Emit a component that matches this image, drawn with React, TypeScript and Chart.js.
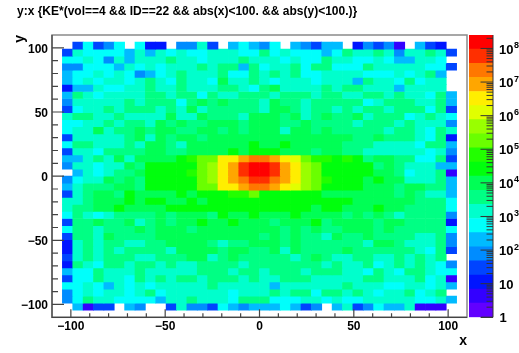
import React, { useEffect, useRef } from "react";
import { Chart, registerables } from "chart.js";

Chart.register(...registerables);

const titleText = "y:x {KE*(vol==4 && ID==22 && abs(x)<100. && abs(y)<100.)}";
const FONT = "'Liberation Sans', Arial, sans-serif";

// Contour level (0..19) of every bin. -1 is an empty bin.
const row00 = [-1,3,6,3,4,6,-1,6,2,2,-1,4,4,7,3,-1,5,6,5,4,6,-1,5,4,3,5,5,-1,2,4,3,4,1,-1,5,3,2,-1];
const row01 = [3,7,6,6,6,6,5,7,5,7,6,7,6,6,7,7,7,6,6,8,6,7,6,6,6,5,6,8,7,7,8,7,4,7,7,8,7,3];
const row02 = [6,6,7,6,4,7,5,7,7,7,8,7,7,6,7,7,7,8,7,7,7,6,7,6,6,8,7,7,6,6,7,6,5,5,7,7,6,-1];
const row03 = [4,4,6,6,6,5,7,6,7,6,7,7,7,8,7,8,8,5,8,6,7,7,8,6,8,8,6,6,6,8,7,7,7,7,7,6,6,3];
const row04 = [5,6,6,7,6,7,6,4,5,6,7,8,7,7,7,8,6,6,8,7,8,7,8,6,6,7,7,7,7,6,6,6,7,6,7,8,5,-1];
const row05 = [5,6,7,6,7,7,6,7,8,7,6,8,7,7,6,9,7,7,8,7,6,7,7,7,6,7,7,7,5,8,7,7,6,8,6,7,7,-1];
const row06 = [2,5,5,7,6,6,7,7,8,7,7,8,7,7,7,8,8,7,6,8,9,7,7,7,7,8,7,8,8,7,7,7,5,7,7,7,7,-1];
const row07 = [5,8,7,6,7,7,7,7,8,8,7,8,8,6,8,7,7,8,8,8,7,8,8,8,7,8,8,7,7,8,8,7,8,7,7,6,8,5];
const row08 = [4,7,7,7,7,7,8,7,8,8,8,6,8,9,8,9,8,8,8,7,9,8,8,7,8,8,8,8,8,6,7,8,8,8,7,7,8,5];
const row09 = [3,6,7,7,8,7,8,8,8,7,8,7,9,7,8,8,8,8,8,7,9,9,8,7,8,8,7,8,7,8,8,7,8,8,8,6,8,3];
const row10 = [7,8,8,7,7,8,7,7,7,7,9,7,7,9,8,8,8,7,9,9,9,8,9,7,8,9,8,8,9,7,8,8,8,6,7,8,7,6];
const row11 = [6,6,7,7,8,7,8,8,7,9,8,9,8,8,9,9,9,8,9,9,9,8,8,9,8,8,8,8,7,8,8,8,7,8,7,7,7,4];
const row12 = [6,7,7,9,7,8,8,9,8,9,9,8,8,9,9,8,9,8,9,9,9,7,9,9,8,9,8,8,8,8,8,7,8,8,7,6,8,7];
const row13 = [3,7,7,7,7,7,8,9,7,9,8,9,9,8,9,9,9,9,9,9,9,9,9,9,9,9,9,9,8,8,9,8,8,8,7,6,8,2];
const row14 = [6,8,8,7,7,7,8,7,9,9,8,7,9,9,9,9,9,9,10,9,9,10,9,9,9,9,9,8,8,8,7,7,7,7,6,8,8,5];
const row15 = [3,7,7,6,8,8,8,8,9,9,8,8,9,9,9,9,10,9,10,10,10,9,9,9,8,9,9,8,8,7,7,7,7,7,7,6,7,4];
const row16 = [5,5,7,8,7,9,7,9,9,9,9,10,11,12,12,15,15,16,17,17,16,15,14,12,11,11,10,11,10,8,9,9,8,8,6,6,8,3];
const row17 = [4,7,7,6,7,7,9,8,10,10,10,10,10,12,13,15,16,18,19,19,18,16,15,13,12,10,10,10,10,10,8,9,8,7,7,7,5,5];
const row18 = [-1,5,7,6,7,8,8,9,10,10,10,10,11,12,13,15,16,18,19,19,18,16,15,13,12,10,10,10,10,10,9,9,8,6,7,7,8,1];
const row19 = [4,6,7,7,9,8,9,8,10,10,10,10,10,12,13,15,16,17,18,18,17,16,15,13,12,11,10,10,10,9,10,9,9,7,7,7,8,5];
const row20 = [5,7,8,8,8,9,9,8,10,10,10,10,10,12,12,15,15,16,17,17,16,15,14,13,12,10,10,10,10,9,9,9,8,9,9,8,8,5];
const row21 = [3,7,8,9,9,8,10,9,9,9,9,10,9,10,10,10,11,11,12,10,10,10,10,10,10,9,9,9,9,9,9,9,8,9,8,7,7,5];
const row22 = [7,7,8,9,9,9,10,9,10,10,9,9,10,9,10,10,10,10,10,10,10,10,10,10,10,10,10,10,9,9,9,9,9,9,8,8,8,6];
const row23 = [7,8,8,9,9,10,9,9,9,9,10,10,10,10,10,10,10,10,10,10,10,10,10,10,9,10,10,9,9,9,10,9,9,8,8,8,8,6];
const row24 = [6,8,7,6,7,8,8,8,8,9,8,9,9,9,8,10,9,9,10,9,9,9,10,9,9,9,9,8,9,8,9,8,7,8,8,8,8,4];
const row25 = [3,8,8,9,8,8,9,7,8,9,8,9,9,10,9,9,10,9,9,9,8,9,9,9,10,8,9,9,9,9,8,9,9,8,8,8,8,2];
const row26 = [6,8,8,7,8,8,8,9,8,9,9,9,8,9,9,9,9,9,9,9,9,8,9,8,9,8,8,9,9,9,8,9,8,8,8,8,8,6];
const row27 = [3,8,8,7,9,8,8,8,8,9,9,9,9,9,9,9,9,9,9,8,9,8,9,8,8,7,9,8,8,9,8,8,8,8,7,7,8,4];
const row28 = [2,7,8,7,8,8,7,7,8,8,9,9,9,9,8,7,8,8,9,9,9,8,9,8,8,8,8,8,8,7,9,9,8,7,7,7,8,4];
const row29 = [2,7,8,7,8,7,8,8,8,8,7,9,9,9,9,8,9,9,8,8,9,7,9,8,8,8,8,9,8,8,8,8,8,8,7,6,8,3];
const row30 = [3,7,8,7,8,8,8,7,7,8,8,8,9,9,7,8,9,8,8,8,8,8,7,8,9,8,7,7,8,8,7,7,8,7,8,7,8,-1];
const row31 = [2,8,7,6,8,8,7,8,8,7,8,7,7,8,8,8,8,7,8,8,8,8,8,8,8,7,8,7,7,8,6,7,8,7,8,7,6,4];
const row32 = [5,6,6,8,7,7,7,8,7,7,7,7,7,8,8,8,7,8,8,7,8,8,8,7,8,8,8,7,7,6,8,7,6,8,8,7,6,6];
const row33 = [3,6,6,8,7,7,6,8,7,8,7,8,8,7,8,8,8,7,8,7,7,8,8,8,7,7,7,7,7,8,8,7,7,7,8,6,7,1];
const row34 = [6,6,7,6,5,7,6,7,6,7,7,7,7,7,8,7,7,7,7,7,5,7,7,7,7,7,7,8,7,7,7,6,6,7,7,6,7,5];
const row35 = [4,6,7,6,7,7,6,7,8,6,7,7,7,7,7,7,6,7,7,7,8,7,8,8,6,8,8,7,8,7,6,7,7,8,6,7,8,-1];
const row36 = [4,6,8,7,7,6,6,6,6,5,7,7,8,7,7,7,6,8,8,8,6,6,6,7,7,6,7,6,6,7,7,7,7,7,6,6,7,5];
const row37 = [-1,5,1,3,3,-1,5,4,-1,-1,3,7,4,4,3,6,5,4,5,5,5,6,5,3,4,-1,5,7,3,4,6,5,5,7,1,1,1,-1];
const rows = [row00,row01,row02,row03,row04,row05,row06,row07,row08,row09,row10,row11,row12,row13,row14,row15,row16,row17,row18,row19,row20,row21,row22,row23,row24,row25,row26,row27,row28,row29,row30,row31,row32,row33,row34,row35,row36,row37];

// ROOT rainbow palette, sampled at the 20 contour levels (hues in degrees)
const levelHues = [263,252,235,224,207,196,179,168,151,140,123,112,95,84,67,56,39,28,11,0];
const levelColor = (k: number) => `hsl(${levelHues[k]},100%,50%)`;

const axisMin = -110;
const axisMax = 110;
const binWidth = 5.5;
const zTopExponent = 8.4;
const zExponents = [0,1,2,3,4,5,6,7,8];

const DARK = "#444444";
const FRAME = "#8a8a8a";

const framePlugin = {
  id: "rootFrame",
  afterDatasetsDraw(chart: any) {
    const { ctx, chartArea: a, scales } = chart;
    ctx.save();
    ctx.lineWidth = 1.5;
    ctx.strokeStyle = FRAME;
    ctx.strokeRect(a.left, a.top, a.right - a.left, a.bottom - a.top);
    ctx.lineWidth = 1.2;
    ctx.strokeStyle = DARK;
    ctx.beginPath();
    ctx.moveTo(a.left, a.top);
    ctx.lineTo(a.left, a.bottom);
    ctx.lineTo(a.right, a.bottom);
    for (const t of scales.x.ticks) {
      if (t.value < -100 || t.value > 100) continue;
      const px = scales.x.getPixelForValue(t.value);
      const len = t.value % 50 === 0 ? 8 : 4;
      ctx.moveTo(px, a.bottom);
      ctx.lineTo(px, a.bottom - len);
    }
    for (const t of scales.y.ticks) {
      if (t.value < -100 || t.value > 100) continue;
      const py = scales.y.getPixelForValue(t.value);
      const len = t.value % 50 === 0 ? 12 : 6;
      ctx.moveTo(a.left, py);
      ctx.lineTo(a.left + len, py);
    }
    ctx.stroke();
    ctx.restore();
  },
};

const paletteAxisPlugin = {
  id: "paletteAxis",
  afterDatasetsDraw(chart: any) {
    const { ctx, chartArea: a, scales } = chart;
    const y = scales.y;
    ctx.save();
    ctx.lineWidth = 1;
    ctx.strokeStyle = "#333333";
    ctx.beginPath();
    ctx.moveTo(a.left + 12, a.bottom);
    ctx.lineTo(a.right, a.bottom);
    ctx.lineTo(a.right, a.top);
    for (const e of zExponents) {
      const py = y.getPixelForValue(Math.pow(10, e));
      ctx.moveTo(a.right, py);
      ctx.lineTo(a.right - 12.5, py);
      for (let m = 2; m <= 9; m++) {
        const v = m * Math.pow(10, e);
        if (v > y.max) continue;
        const pm = y.getPixelForValue(v);
        ctx.moveTo(a.right, pm);
        ctx.lineTo(a.right - 6.5, pm);
      }
    }
    ctx.stroke();
    ctx.fillStyle = "#000";
    ctx.textBaseline = "middle";
    ctx.textAlign = "left";
    for (const e of zExponents) {
      const py = y.getPixelForValue(Math.pow(10, e));
      ctx.font = `bold 13px ${FONT}`;
      const base = e === 0 ? "1" : "10";
      const lx = e === 0 ? a.right + 6.5 : a.right + 6;
      ctx.fillText(base, lx, py + 1.5);
      if (e > 1) {
        const w = ctx.measureText(base).width;
        ctx.font = `bold 9px ${FONT}`;
        ctx.fillText(String(e), lx + w + 0.5, py - 3);
      }
    }
    ctx.restore();
  },
};

const tickLabel = (v: any) => {
  if (v % 50 !== 0) return "";
  return v < 0 ? "\u2212" + Math.abs(v) : String(v);
};

export default function App() {
  const mainRef = useRef<HTMLCanvasElement>(null);
  const barRef = useRef<HTMLCanvasElement>(null);

  useEffect(() => {
    const cellDatasets = rows.map((levels, r) => {
      const top = axisMax - binWidth * (r + 1);
      const data: any[] = [];
      const colors: string[] = [];
      levels.forEach((k, c) => {
        if (k < 0) return;
        data.push({ x: axisMin + binWidth * (c + 1.5), y: [top - binWidth, top] });
        colors.push(levelColor(k));
      });
      return {
        label: `row ${r}`,
        data,
        backgroundColor: colors,
        borderWidth: 0,
        grouped: false,
        barPercentage: 1,
        categoryPercentage: 1,
      };
    });

    const main = new Chart(mainRef.current!, {
      type: "bar",
      data: { datasets: cellDatasets as any },
      plugins: [framePlugin],
      options: {
        animation: false,
        responsive: false,
        maintainAspectRatio: false,
        layout: { padding: { left: 17, right: 52, top: 0, bottom: 0 } },
        plugins: {
          legend: { display: false },
          tooltip: { enabled: false },
          title: {
            display: true,
            text: titleText,
            align: "start",
            color: "#000",
            font: { family: FONT, size: 12, weight: "bold" },
            padding: { top: 4.5, bottom: 16.1 },
          },
        },
        scales: {
          x: {
            type: "linear",
            min: axisMin,
            max: axisMax,
            offset: false,
            afterFit: (s: any) => { s.height = 35.7; },
            grid: { display: false, drawTicks: false },
            border: { display: false },
            ticks: {
              stepSize: 10,
              autoSkip: false,
              maxRotation: 0,
              padding: 2,
              color: "#000",
              font: { family: FONT, size: 12, weight: "bold" },
              callback: tickLabel,
            },
            title: {
              display: true,
              text: "x",
              align: "end",
              color: "#000",
              font: { family: FONT, size: 14, weight: "bold" },
              padding: { top: 0, bottom: 3 },
            },
          },
          y: {
            type: "linear",
            min: axisMin,
            max: axisMax,
            afterFit: (s: any) => { s.width = 35; },
            grid: { display: false, drawTicks: false },
            border: { display: false },
            ticks: {
              stepSize: 10,
              autoSkip: false,
              padding: 4,
              labelOffset: 1.5,
              color: "#000",
              font: { family: FONT, size: 12, weight: "bold" },
              callback: tickLabel,
            },
            title: {
              display: true,
              text: "y",
              align: "end",
              color: "#000",
              font: { family: FONT, size: 14, weight: "bold" },
              padding: { top: -5, bottom: 0 },
            },
          },
        },
      },
    });

    const step = zTopExponent / levelHues.length;
    const barDatasets = levelHues.map((_, k) => ({
      label: `level ${k}`,
      data: [[Math.pow(10, k * step), Math.pow(10, (k + 1) * step)]],
      backgroundColor: levelColor(k),
      borderWidth: 0,
      grouped: false,
      barPercentage: 1,
      categoryPercentage: 1,
    }));

    const bar = new Chart(barRef.current!, {
      type: "bar",
      data: { labels: ["z"], datasets: barDatasets as any },
      plugins: [paletteAxisPlugin],
      options: {
        animation: false,
        responsive: false,
        maintainAspectRatio: false,
        layout: { padding: { left: 4, right: 0, top: 35, bottom: 35.7 } },
        plugins: { legend: { display: false }, tooltip: { enabled: false } },
        scales: {
          x: { display: false },
          y: {
            type: "logarithmic",
            position: "right",
            min: 1,
            max: Math.pow(10, zTopExponent),
            afterFit: (s: any) => { s.width = 26; },
            grid: { display: false, drawTicks: false },
            border: { display: false },
            ticks: { display: false },
          },
        },
      },
    });

    return () => {
      main.destroy();
      bar.destroy();
    };
  }, []);

  return (
    <div style={{ position: "fixed", left: 0, top: 0, width: 519, height: 353, background: "#fff" }}>
      <canvas ref={mainRef} width={519} height={353} style={{ position: "absolute", left: 0, top: 0, display: "block" }} />
      <canvas ref={barRef} width={54} height={353} style={{ position: "absolute", left: 465, top: 0, display: "block" }} />
    </div>
  );
}
